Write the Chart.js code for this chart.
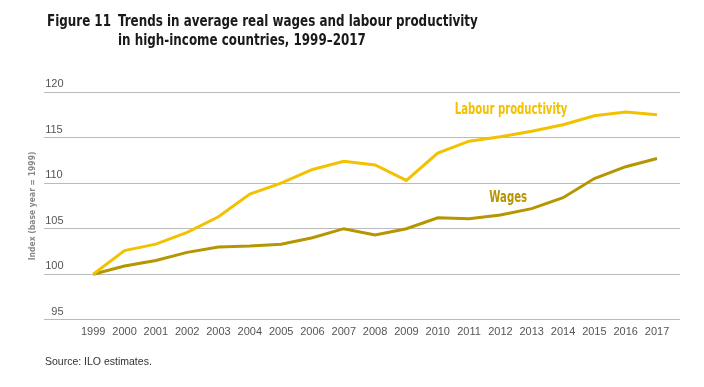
<!DOCTYPE html>
<html>
<head>
<meta charset="utf-8">
<script src="https://cdn.jsdelivr.net/npm/chart.js@4/dist/chart.umd.min.js"></script>
<style>
  body { margin: 0; background: #fff; }
  .wrap { position: relative; width: 704px; height: 387px; overflow: hidden; }
  .title { position: absolute; left: 47px; top: 12px; font-family: "Liberation Sans Narrow", "DejaVu Sans Condensed", sans-serif; font-weight: bold; font-size: 15.5px; line-height: 19px; color: #1a1a1a; }
  .title span { position: absolute; top: 0; white-space: nowrap; transform: scaleX(0.855); transform-origin: 0 0; }
  .title .num { left: 0; }
  .title .txt { left: 71px; }
  .source { position: absolute; left: 45px; top: 355px; font-family: "Liberation Sans", Arial, sans-serif; font-size: 10.5px; color: #333; }
  canvas { position: absolute; left: 0; top: 0; }
</style>
</head>
<body>
<div class="wrap">
  <canvas id="chart" width="704" height="387"></canvas>
  <div class="title"><span class="num">Figure 11</span><span class="txt">Trends in average real wages and labour productivity<br>in high-income countries, 1999–2017</span></div>
  <div class="source">Source: ILO estimates.</div>
</div>
<script>
// years on the x axis
const years = [1999, 2000, 2001, 2002, 2003, 2004, 2005, 2006, 2007, 2008, 2009, 2010, 2011, 2012, 2013, 2014, 2015, 2016, 2017];

// index values (1999 = 100)
const productivity = [100, 102.6, 103.3, 104.6, 106.3, 108.8, 110.0, 111.5, 112.4, 112.0, 110.3, 113.3, 114.6, 115.1, 115.7, 116.4, 117.4, 117.8, 117.5];
const wages = [100, 100.9, 101.5, 102.4, 103.0, 103.1, 103.3, 104.0, 105.0, 104.3, 105.0, 106.2, 106.1, 106.5, 107.2, 108.4, 110.5, 111.8, 112.7];

const yTicks = [95, 100, 105, 110, 115, 120];

const prodColor = '#f2c200';
const wageColor = '#b59600';

// line labels drawn next to the series
const seriesLabels = [
  { text: 'Labour productivity', x: 2012.34, y: 118.0, color: prodColor },
  { text: 'Wages', x: 2012.25, y: 108.4, color: wageColor }
];

const toPoints = (vals) => vals.map((v, i) => ({ x: years[i], y: v }));

const lineLabels = {
  id: 'lineLabels',
  afterDatasetsDraw(chart) {
    const ctx = chart.ctx;
    const xs = chart.scales.x, ys = chart.scales.y;
    ctx.save();
    ctx.font = 'bold 15px "Liberation Sans Narrow", "DejaVu Sans Condensed", sans-serif';
    ctx.textAlign = 'center';
    ctx.textBaseline = 'middle';
    seriesLabels.forEach(l => {
      ctx.save();
      ctx.translate(xs.getPixelForValue(l.x), ys.getPixelForValue(l.y));
      ctx.scale(0.75, 1); // squeeze to a condensed look
      ctx.fillStyle = l.color;
      ctx.fillText(l.text, 0, 0);
      ctx.restore();
    });
    ctx.restore();
  }
};

new Chart(document.getElementById('chart'), {
  type: 'line',
  data: {
    datasets: [
      { label: 'Labour productivity', data: toPoints(productivity), borderColor: prodColor, borderWidth: 3, pointRadius: 0, tension: 0 },
      { label: 'Wages', data: toPoints(wages), borderColor: wageColor, borderWidth: 3, pointRadius: 0, tension: 0 }
    ]
  },
  options: {
    responsive: false,
    animation: false,
    layout: { padding: { left: 24, right: 24, top: 92, bottom: 42 } },
    plugins: { legend: { display: false }, tooltip: { enabled: false } },
    scales: {
      x: {
        type: 'linear',
        min: 1997.436,
        max: 2017.734,
        grid: { display: false, drawTicks: false },
        border: { display: false },
        ticks: {
          stepSize: 1,
          includeBounds: false,
          autoSkip: false,
          maxRotation: 0,
          padding: 6,
          color: '#555',
          font: { family: '"Liberation Sans", Arial, sans-serif', size: 11 },
          callback: (v) => years.includes(v) ? String(v) : ''
        }
      },
      y: {
        min: 95,
        max: 120,
        afterBuildTicks: (scale) => { scale.ticks = yTicks.map(v => ({ value: v })); },
        grid: { color: '#bbbbbb', lineWidth: 1, drawTicks: false },
        border: { display: false },
        ticks: {
          mirror: true,
          padding: 1,
          labelOffset: -8,
          color: '#555',
          font: { family: '"Liberation Sans", Arial, sans-serif', size: 11 },
          // pad with a figure space so the labels line up on the right
          callback: (v) => String(v).padStart(3, '\u2007')
        },
        title: {
          display: true,
          text: 'Index (base year = 1999)',
          color: '#888',
          font: { family: '"Liberation Sans Narrow", "DejaVu Sans Condensed", sans-serif', size: 8.5, weight: 'bold' }
        }
      }
    }
  },
  plugins: [lineLabels]
});
</script>
</body>
</html>
